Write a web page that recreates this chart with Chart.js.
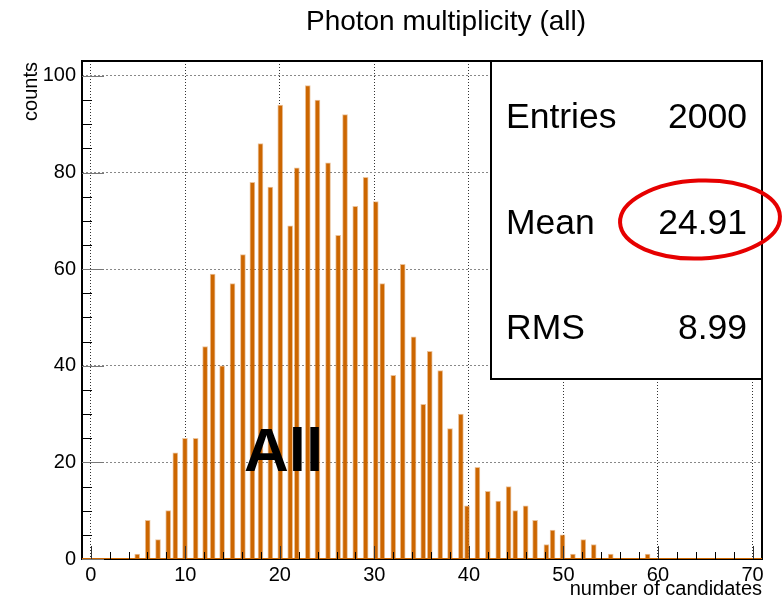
<!DOCTYPE html>
<html>
<head>
<meta charset="utf-8">
<script src="https://cdn.jsdelivr.net/npm/chart.js@4.4.1/dist/chart.umd.min.js"></script>
<style>
  html, body { margin: 0; padding: 0; background: #fff; }
</style>
</head>
<body>
<canvas id="histo" width="784" height="605"></canvas>
<script>
const binCentres = [4.92, 6.03, 7.12, 8.2, 8.95, 9.97, 11.1, 12.1, 12.9, 13.9,
  15.0, 16.1, 17.1, 17.96, 19.0, 20.05, 21.1, 21.8, 22.96, 23.98,
  25.1, 26.17, 26.9, 27.98, 29.08, 30.15, 30.84, 32.0, 33.0, 34.15,
  35.17, 35.86, 36.97, 38.0, 39.15, 39.8, 40.9, 42.0, 43.1, 44.2,
  44.9, 46.0, 47.0, 48.2, 48.85, 49.9, 51.0, 52.1, 53.2, 55.0, 58.9];
const counts = [1, 8, 4, 10, 22, 25, 25, 44, 59, 40,
  57, 63, 78, 86, 77, 94, 69, 81, 98, 95,
  82, 67, 92, 73, 79, 74, 57, 38, 61, 46,
  32, 43, 39, 27, 30, 11, 19, 14, 12, 15,
  10, 11, 8, 3, 6, 5, 1, 4, 3, 1, 1];

const xTicks = [0, 10, 20, 30, 40, 50, 60, 70];
const yTicks = [0, 20, 40, 60, 80, 100];
const xMinorStep = 2;
const yMinorStep = 5;
const xRange = [-0.92, 71.0];
const yRange = [0, 103.1];

const statNames = ['Entries', 'Mean', 'RMS'];
const statValues = ['2000', '24.91', '8.99'];

const titleText = 'Photon multiplicity (all)';
const xTitle = 'number of candidates';
const yTitle = 'counts';
const labelText = 'All';

const orange = '#cc6600';
const fuente = 'Liberation Sans, Arial, Helvetica, sans-serif';

// --- dibujos extra estilo ROOT ---
const marcoPlugin = {
  id: 'marco',
  beforeDatasetsDraw(chart) {
    const { ctx, chartArea: a } = chart;
    ctx.save();
    ctx.strokeStyle = '#000';
    ctx.lineWidth = 2;
    ctx.strokeRect(a.left, a.top, a.right - a.left, a.bottom - a.top);
    ctx.restore();
  },
  afterDraw(chart) {
    const { ctx, chartArea: a } = chart;
    const sx = chart.scales.x, sy = chart.scales.y;
    ctx.save();

    // ticks hacia dentro
    ctx.lineWidth = 1;
    for (let v = 0; v <= xRange[1]; v += xMinorStep) {
      const px = Math.round(sx.getPixelForValue(v)) + 0.5;
      const major = xTicks.includes(v);
      ctx.strokeStyle = major ? '#333' : '#000';
      ctx.beginPath();
      ctx.moveTo(px, a.bottom);
      ctx.lineTo(px, a.bottom - (major ? 13 : 7));
      ctx.stroke();
    }
    for (let v = 0; v <= yRange[1]; v += yMinorStep) {
      const py = Math.round(sy.getPixelForValue(v)) + 0.5;
      const major = yTicks.includes(v);
      ctx.strokeStyle = major ? '#777' : '#000';
      ctx.beginPath();
      ctx.moveTo(a.left, py);
      ctx.lineTo(a.left + (major ? 22 : 10), py);
      ctx.stroke();
    }

    // caja de estadisticas
    const bx = 491, by = a.top, bw = a.right - 491, bh = 318;
    ctx.fillStyle = '#fff';
    ctx.fillRect(bx, by, bw, bh);
    ctx.strokeStyle = '#000';
    ctx.lineWidth = 2;
    ctx.strokeRect(bx, by, bw, bh);
    ctx.fillStyle = '#000';
    ctx.font = '35.5px ' + fuente;
    ctx.textBaseline = 'alphabetic';
    statNames.forEach((n, i) => {
      const base = 128 + i * 105.5;
      ctx.textAlign = 'left';
      ctx.fillText(n, 506, base);
      ctx.textAlign = 'right';
      ctx.fillText(statValues[i], 747, base);
    });

    // elipse roja
    ctx.strokeStyle = '#e60000';
    ctx.lineWidth = 4;
    ctx.beginPath();
    ctx.ellipse(700, 219.5, 80, 39, -0.04, 0, Math.PI * 2);
    ctx.stroke();

    // texto "All"
    ctx.fillStyle = '#000';
    ctx.textAlign = 'left';
    ctx.font = 'bold 62px ' + fuente;
    ctx.fillText(labelText, 244, 471);

    // titulo
    ctx.font = '28px ' + fuente;
    ctx.textAlign = 'center';
    ctx.fillText(titleText, 446, 30);

    // titulos de ejes
    ctx.font = '20px ' + fuente;
    ctx.textAlign = 'right';
    ctx.fillText(xTitle, a.right, 595);
    ctx.save();
    ctx.translate(37, 62);
    ctx.rotate(-Math.PI / 2);
    ctx.textAlign = 'right';
    ctx.fillText(yTitle, 0, 0);
    ctx.restore();

    ctx.restore();
  }
};

const ctx = document.getElementById('histo').getContext('2d');
const chartHisto = new Chart(ctx, {
  type: 'bar',
  data: {
    datasets: [
      {
        type: 'line',
        data: [{ x: xRange[0], y: 0 }, { x: xRange[1], y: 0 }],
        borderColor: orange,
        borderWidth: 2,
        pointRadius: 0
      },
      {
        data: binCentres.map((x, i) => ({ x: x, y: counts[i] })),
        backgroundColor: orange,
        borderColor: 'rgba(204, 102, 0, 0.4)',
        borderWidth: { left: 1, right: 1, top: 1, bottom: 0 },
        borderSkipped: 'start',
        barThickness: 5,
        grouped: false
      }
    ]
  },
  options: {
    responsive: false,
    devicePixelRatio: 1,
    animation: false,
    layout: { padding: { top: 61, right: 22, left: 0, bottom: 0 } },
    plugins: { legend: { display: false }, tooltip: { enabled: false }, title: { display: false } },
    scales: {
      x: {
        type: 'linear',
        offset: false,
        min: xRange[0],
        max: xRange[1],
        afterBuildTicks: (s) => { s.ticks = xTicks.map(v => ({ value: v })); },
        afterFit: (s) => { s.height = 46; },
        grid: { color: 'rgba(0,0,0,0.8)', lineWidth: 1, drawTicks: false, offset: false },
        border: { display: false, dash: [1, 2] },
        ticks: { color: '#000', font: { family: fuente, size: 20 }, padding: 4, maxRotation: 0, autoSkip: false }
      },
      y: {
        type: 'linear',
        min: yRange[0],
        max: yRange[1],
        afterBuildTicks: (s) => { s.ticks = yTicks.map(v => ({ value: v })); },
        afterFit: (s) => { s.width = 82; },
        grid: { color: '#888', lineWidth: 1, drawTicks: false },
        border: { display: false, dash: [2, 2] },
        ticks: { color: '#000', font: { family: fuente, size: 20 }, padding: 6 }
      }
    }
  },
  plugins: [marcoPlugin]
});
</script>
</body>
</html>
